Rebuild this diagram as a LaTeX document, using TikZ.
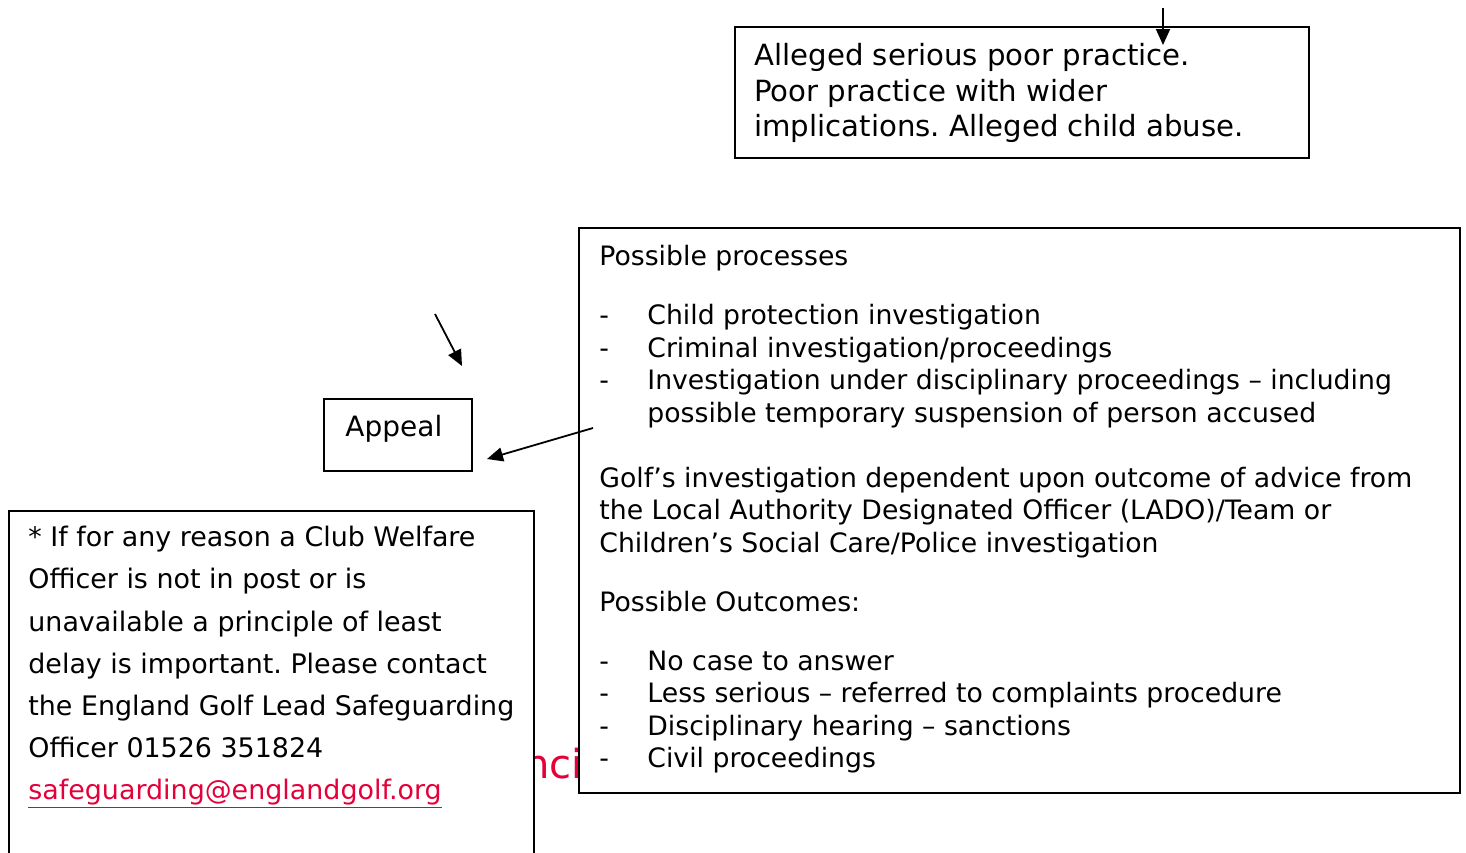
\documentclass[tikz,border=0pt]{standalone}
\usepackage{fontspec}
\setmainfont{DejaVu Sans}
\usetikzlibrary{arrows.meta, positioning}
\definecolor{linkred}{RGB}{228,0,58}
\newcommand{\Dash}{\makebox[24pt][l]{-}}
\newcommand{\Gap}{\hspace*{24pt}}
\frenchspacing
\tikzset{
    box/.style={draw, line width=0.9pt, fill=white, inner sep=0pt, anchor=north west},
    txt/.style={inner sep=0pt, align=left},
    arr/.style={-{Triangle[length=8pt, width=7pt]}, line width=0.9pt},
}

\begin{document}
\begin{tikzpicture}[x=0.5pt, y=-0.5pt]
    \useasboundingbox (0,0) rectangle (1466,852);

    % red text peeking out between the boxes
    \node[txt, anchor=base west, text=linkred, font=\fontsize{20}{24}\selectfont] (redbit) at (524,778) {nci};

    \node[box, minimum width=287pt, minimum height=65.5pt] (serious) at (734,26) {};
    \node[txt, font=\fontsize{14.6}{17.75}\selectfont, below right=8.5pt and 10pt of serious.north west] (serioustext)
        {Alleged serious poor practice.\\Poor practice with wider\\implications. Alleged child abuse.};

    \node[box, minimum width=440.5pt, minimum height=282.5pt] (proc) at (578,227) {};
    \node[txt, font=\fontsize{13.35}{16.25}\selectfont, below right=9pt and 10.5pt of proc.north west] (proctext) {%
        Possible processes\\[13.25pt]
        \Dash Child protection investigation\\
        \Dash Criminal investigation/proceedings\\
        \Dash Investigation under disciplinary proceedings – including\\
        \Gap possible temporary suspension of person accused\\[16.25pt]
        Golf’s investigation dependent upon outcome of advice from\\
        the Local Authority Designated Officer (LADO)/Team or\\
        Children’s Social Care/Police investigation\\[13.25pt]
        Possible Outcomes:\\[13.25pt]
        \Dash No case to answer\\
        \Dash Less serious – referred to complaints procedure\\
        \Dash Disciplinary hearing – sanctions\\
        \Dash Civil proceedings};

    \node[box, minimum width=262.5pt, minimum height=180pt] (note) at (8,510) {};
    \node[txt, font=\fontsize{13.45}{21.05}\selectfont, below right=8pt and 10pt of note.north west] (notetext) {%
        * If for any reason a Club Welfare\\
        Officer is not in post or is\\
        unavailable a principle of least\\
        delay is important. Please contact\\
        the England Golf Lead Safeguarding\\
        Officer 01526 351824\\
        {\color{linkred}\underline{safeguarding@englandgolf.org}}};

    \node[box, minimum width=74pt, minimum height=36pt, text depth=8.8pt, font=\fontsize{14}{17}\selectfont] (appeal) at (323,398) {\hspace*{-4pt}Appeal};

    \coordinate (topstart) at (1163,8);
    \coordinate (topend) at (1163,45);
    \coordinate (midstart) at (435,314);
    \coordinate (midend) at (462,366);
    \coordinate (procout) at (593,428);
    \coordinate (appealin) at (487,459);

    \draw[arr] (topstart) -- (topend);
    \draw[arr] (midstart) -- (midend);
    \draw[arr] (procout) -- (appealin);
\end{tikzpicture}
\end{document}
